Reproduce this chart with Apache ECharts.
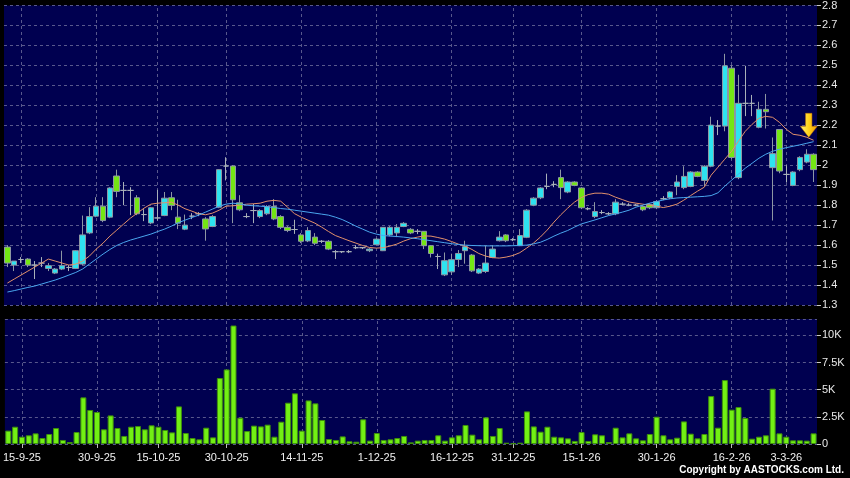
<!DOCTYPE html>
<html><head><meta charset="utf-8">
<script src="https://cdn.jsdelivr.net/npm/echarts@6/dist/echarts.min.js"></script>
<style>html,body{margin:0;padding:0;background:#000;}#c{width:850px;height:478px;}</style>
</head><body><div id="c"></div>
<script>
const dates = [
'11-9-25','12-9-25','15-9-25','16-9-25','17-9-25','18-9-25','19-9-25','22-9-25','23-9-25','24-9-25','25-9-25','26-9-25','29-9-25','30-9-25',
'2-10-25','3-10-25','6-10-25','8-10-25','9-10-25','10-10-25','13-10-25','14-10-25','15-10-25','16-10-25','17-10-25','20-10-25','21-10-25','22-10-25','23-10-25','24-10-25','27-10-25','28-10-25','30-10-25','31-10-25',
'3-11-25','4-11-25','5-11-25','6-11-25','7-11-25','10-11-25','11-11-25','12-11-25','13-11-25','14-11-25','17-11-25','18-11-25','19-11-25','20-11-25','21-11-25','24-11-25','25-11-25','26-11-25','27-11-25','28-11-25',
'1-12-25','2-12-25','3-12-25','4-12-25','5-12-25','8-12-25','9-12-25','10-12-25','11-12-25','12-12-25','15-12-25','16-12-25','17-12-25','18-12-25','19-12-25','22-12-25','23-12-25','24-12-25','29-12-25','30-12-25','31-12-25',
'2-1-26','5-1-26','6-1-26','7-1-26','8-1-26','9-1-26','12-1-26','13-1-26','14-1-26','15-1-26','16-1-26','19-1-26','20-1-26','21-1-26','22-1-26','23-1-26','26-1-26','27-1-26','28-1-26','29-1-26','30-1-26',
'2-2-26','3-2-26','4-2-26','5-2-26','6-2-26','9-2-26','10-2-26','11-2-26','12-2-26','13-2-26','16-2-26','20-2-26','23-2-26','24-2-26','25-2-26','26-2-26','27-2-26',
'2-3-26','3-3-26','4-3-26','5-3-26','6-3-26','9-3-26'];

const tickLabels = ['15-9-25','30-9-25','15-10-25','30-10-25','14-11-25','1-12-25','16-12-25','31-12-25','15-1-26','30-1-26','16-2-26','3-3-26'];

const open = [
1.59,1.50,1.528,1.53,1.50,1.51,1.483,1.46,1.48,1.488,1.483,1.505,1.661,1.745,1.795,1.74,1.946,1.874,1.874,1.837,
1.753,1.711,1.736,1.748,1.837,1.74,1.68,1.745,1.757,1.731,1.693,1.79,1.996,1.996,1.812,1.743,1.773,1.743,1.757,1.793,
1.743,1.689,1.678,1.651,1.621,1.64,1.619,1.619,1.567,1.567,1.567,1.587,1.587,1.572,1.602,1.572,1.651,1.661,1.693,1.679,
1.669,1.669,1.597,1.543,1.451,1.466,1.528,1.572,1.55,1.46,1.468,1.538,1.622,1.651,1.627,1.597,1.639,1.80,1.837,1.894,
1.904,1.938,1.866,1.916,1.886,1.782,1.743,1.763,1.757,1.757,1.805,1.80,1.80,1.793,1.804,1.787,1.832,1.837,1.894,1.888,
1.894,1.966,1.924,1.995,2.196,2.196,2.486,1.938,2.31,2.31,2.19,2.28,1.988,2.179,1.954,1.899,1.978,2.016,2.055];
const close = [
1.51,1.52,1.528,1.50,1.50,1.51,1.497,1.48,1.497,1.488,1.572,1.651,1.743,1.795,1.723,1.886,1.869,1.874,1.874,1.757,
1.753,1.787,1.736,1.835,1.799,1.71,1.70,1.745,1.757,1.681,1.743,1.978,1.996,1.827,1.777,1.743,1.773,1.773,1.793,1.731,
1.689,1.673,1.678,1.619,1.673,1.609,1.619,1.58,1.567,1.567,1.567,1.587,1.587,1.58,1.63,1.689,1.689,1.689,1.709,1.661,
1.669,1.597,1.558,1.543,1.522,1.527,1.558,1.592,1.471,1.48,1.51,1.58,1.64,1.622,1.627,1.648,1.775,1.835,1.886,1.894,
1.904,1.888,1.916,1.899,1.787,1.782,1.768,1.763,1.757,1.815,1.805,1.80,1.80,1.777,1.787,1.818,1.832,1.866,1.916,1.944,
1.966,1.944,1.995,2.201,2.196,2.498,2.039,2.31,2.31,2.31,2.28,2.268,2.058,1.971,1.954,1.966,2.039,2.055,1.978];
const low = [
1.49,1.47,1.51,1.49,1.43,1.49,1.47,1.455,1.475,1.47,1.48,1.50,1.655,1.74,1.715,1.735,1.84,1.80,1.75,1.75,
1.72,1.705,1.723,1.745,1.775,1.68,1.675,1.73,1.745,1.622,1.69,1.785,1.924,1.71,1.77,1.735,1.71,1.735,1.75,1.725,
1.68,1.665,1.656,1.61,1.615,1.60,1.61,1.575,1.53,1.56,1.56,1.58,1.58,1.565,1.60,1.57,1.645,1.64,1.69,1.655,
1.655,1.58,1.538,1.48,1.445,1.45,1.49,1.507,1.465,1.455,1.46,1.535,1.618,1.615,1.62,1.595,1.635,1.795,1.83,1.88,
1.89,1.83,1.86,1.895,1.78,1.775,1.735,1.755,1.75,1.75,1.80,1.795,1.795,1.77,1.78,1.78,1.825,1.83,1.85,1.88,
1.89,1.94,1.894,1.99,2.151,2.17,2.03,1.93,2.246,2.246,2.185,2.184,1.723,1.96,1.916,1.895,1.97,2.01,1.916];
const high = [
1.60,1.52,1.54,1.535,1.52,1.54,1.51,1.485,1.572,1.50,1.575,1.748,1.79,1.84,1.84,1.89,1.978,1.916,1.89,1.85,
1.78,1.79,1.877,1.866,1.866,1.827,1.753,1.76,1.765,1.74,1.75,1.98,2.04,2.0,1.85,1.76,1.807,1.78,1.80,1.83,
1.75,1.695,1.727,1.66,1.69,1.66,1.625,1.625,1.575,1.57,1.575,1.60,1.59,1.585,1.635,1.69,1.695,1.705,1.715,1.685,
1.68,1.67,1.60,1.557,1.563,1.557,1.575,1.622,1.555,1.485,1.597,1.60,1.67,1.655,1.635,1.68,1.78,1.84,1.89,1.958,
1.92,1.978,1.92,1.92,1.89,1.79,1.815,1.775,1.765,1.83,1.815,1.81,1.805,1.80,1.81,1.825,1.845,1.87,1.95,1.995,
1.97,1.97,2.00,2.243,2.226,2.558,2.50,2.453,2.498,2.352,2.318,2.357,2.139,2.18,2.0,1.97,2.045,2.08,2.06];

const ma10 = [
1.41,1.43,1.45,1.47,1.49,1.51,1.53,1.52,1.51,1.50,1.505,1.52,1.545,1.58,1.61,1.645,1.675,1.705,1.735,1.76,
1.785,1.805,1.81,1.812,1.815,1.80,1.782,1.77,1.757,1.752,1.76,1.775,1.795,1.797,1.80,1.805,1.807,1.81,1.82,1.824,
1.82,1.79,1.758,1.74,1.725,1.71,1.69,1.668,1.648,1.635,1.622,1.61,1.598,1.588,1.585,1.587,1.595,1.605,1.62,1.632,
1.64,1.646,1.645,1.638,1.63,1.618,1.605,1.595,1.578,1.558,1.545,1.537,1.535,1.54,1.548,1.562,1.585,1.61,1.64,1.675,
1.715,1.752,1.785,1.815,1.838,1.853,1.86,1.86,1.855,1.84,1.828,1.816,1.81,1.805,1.80,1.795,1.788,1.795,1.805,1.825,
1.848,1.87,1.89,1.95,1.99,2.03,2.07,2.12,2.17,2.205,2.235,2.245,2.24,2.215,2.18,2.155,2.15,2.14,2.125];
const ma20 = [
1.365,1.372,1.38,1.388,1.395,1.405,1.415,1.425,1.437,1.45,1.463,1.48,1.505,1.53,1.555,1.578,1.598,1.613,1.625,1.635,
1.645,1.655,1.668,1.68,1.695,1.712,1.725,1.738,1.75,1.765,1.78,1.795,1.805,1.81,1.806,1.80,1.797,1.795,1.792,1.788,
1.783,1.78,1.775,1.77,1.765,1.76,1.755,1.75,1.74,1.728,1.712,1.695,1.68,1.665,1.655,1.648,1.645,1.643,1.64,1.636,
1.632,1.627,1.622,1.617,1.612,1.607,1.603,1.60,1.598,1.597,1.596,1.596,1.596,1.596,1.597,1.598,1.60,1.606,1.614,1.628,
1.645,1.66,1.673,1.69,1.706,1.716,1.726,1.737,1.748,1.756,1.765,1.775,1.79,1.80,1.81,1.818,1.826,1.832,1.836,1.838,
1.84,1.842,1.844,1.848,1.862,1.895,1.925,1.955,1.985,2.01,2.035,2.055,2.07,2.08,2.088,2.095,2.102,2.11,2.118];

const volume = [
1230,1590,670,800,980,550,920,1470,370,180,1100,4290,3130,2940,1350,2630,1470,740,1590,1650,
1350,1720,1590,1290,1070,3460,1010,550,430,1500,610,6070,6860,10900,2420,1190,1690,1620,1780,670,
2050,3800,4660,1230,4010,3740,2210,460,370,700,250,210,2270,310,1010,370,430,550,740,150,
310,370,370,800,310,610,800,1750,860,430,2450,740,1470,120,60,120,3000,1620,1130,1590,
670,610,520,280,1100,280,890,800,180,1500,610,980,520,340,920,2510,800,430,580,2080,
950,520,920,4410,1500,5880,3160,3400,2390,490,670,800,5090,980,670,340,340,310,980];

const arrowMark = {date: '6-3-26', price: 2.20};

const gridColor = '#58588c';
const chart = echarts.init(document.getElementById('c'), null, {renderer: 'canvas'});
const isTick = (idx, val) => tickLabels.indexOf(val) >= 0;
const vLines = tickLabels.map(d => ({xAxis: d}));
const vLineStyle = {color: gridColor, type: [3, 3], width: 1};

chart.setOption({
  animation: false,
  backgroundColor: '#000',
  grid: [
    {left: 4, right: 33, top: 5, height: 300, show: true, backgroundColor: '#000050', borderWidth: 0},
    {left: 4, right: 33, top: 319, height: 125, show: true, backgroundColor: '#000050', borderWidth: 0}
  ],
  xAxis: [
    {type: 'category', gridIndex: 0, data: dates, boundaryGap: true,
     axisLine: {show: false}, axisTick: {show: false}, axisLabel: {show: false}, splitLine: {show: false}},
    {type: 'category', gridIndex: 1, data: dates, boundaryGap: true,
     axisLine: {show: false},
     axisTick: {show: true, alignWithLabel: true, interval: isTick, length: 4, lineStyle: {color: '#bbb'}},
     axisLabel: {show: true, interval: isTick, color: '#f0f0f0', fontSize: 11, fontFamily: 'Liberation Sans, Arial, sans-serif', margin: 8},
     splitLine: {show: false}}
  ],
  yAxis: [
    {type: 'value', gridIndex: 0, position: 'right', min: 1.3, max: 2.8, interval: 0.1, scale: true,
     axisLine: {show: false},
     axisTick: {show: true, length: 4, lineStyle: {color: '#ccc'}},
     axisLabel: {color: '#e8e8e8', fontSize: 11, fontFamily: 'Liberation Sans, Arial, sans-serif', margin: 5,
       formatter: v => String(Math.round(v * 10) / 10)},
     splitLine: {show: true, lineStyle: {color: gridColor, type: [3, 3], width: 1}}},
    {type: 'value', gridIndex: 1, position: 'right', min: 0, max: 11500, interval: 2500,
     axisLine: {show: false},
     axisTick: {show: true, length: 4, lineStyle: {color: '#ccc'}},
     axisLabel: {color: '#e8e8e8', fontSize: 11, fontFamily: 'Liberation Sans, Arial, sans-serif', margin: 5, showMaxLabel: false,
       formatter: v => v === 0 ? '0' : (v % 2500 === 0 ? (v / 1000) + 'K' : '')},
     splitLine: {show: true, lineStyle: {color: gridColor, type: [3, 3], width: 1}}}
  ],
  series: [
    {type: 'line', xAxisIndex: 0, yAxisIndex: 0, z: 1, data: dates.map(() => null), silent: true,
     markLine: {z: 1, silent: true, symbol: ['none', 'none'], label: {show: false}, lineStyle: vLineStyle, data: vLines, animation: false}},
    {type: 'line', xAxisIndex: 1, yAxisIndex: 1, z: 1, data: dates.map(() => null), silent: true,
     markLine: {z: 1, silent: true, symbol: ['none', 'none'], label: {show: false}, lineStyle: vLineStyle, data: vLines, animation: false}},
    {name: 'price', type: 'candlestick', xAxisIndex: 0, yAxisIndex: 0, z: 3, barWidth: 6,
     data: dates.map((d, i) => [open[i], close[i], low[i], high[i]]),
     itemStyle: {color: '#2EE3F0', color0: '#74E614', borderColor: '#8d97a3', borderColor0: '#8d97a3', borderColorDoji: '#a8b0b8', borderWidth: 1}},
    {name: 'MA10', type: 'line', xAxisIndex: 0, yAxisIndex: 0, z: 4, data: ma10, symbol: 'none',
     lineStyle: {color: '#E3916B', width: 1}},
    {name: 'MA20', type: 'line', xAxisIndex: 0, yAxisIndex: 0, z: 4, data: ma20, symbol: 'none',
     lineStyle: {color: '#4AA6EE', width: 1},
     markPoint: {silent: true, symbol: 'path://M5,0 L11,0 L11,13 L16,13 L8,24 L0,13 L5,13 Z',
       symbolSize: [17, 24], symbolOffset: [2, 0], label: {show: false},
       itemStyle: {color: {type: 'linear', x: 0, y: 0, x2: 1, y2: 0, colorStops: [{offset: 0, color: '#FFF27A'}, {offset: 0.5, color: '#FFD21A'}, {offset: 1, color: '#F29A00'}]},
         borderColor: '#C07000', borderWidth: 0.5},
       data: [{coord: [arrowMark.date, arrowMark.price]}]}},
    {name: 'volume', type: 'bar', xAxisIndex: 1, yAxisIndex: 1, z: 3, barWidth: 6, data: volume,
     itemStyle: {color: '#72F014', borderColor: '#3f8f0c', borderWidth: 1}}
  ],
  graphic: [
    {type: 'text', right: 6, top: 465, style: {text: 'Copyright by AASTOCKS.com Ltd.', fill: '#ffffff', font: 'bold 10px "Liberation Sans", Arial, sans-serif'}}
  ]
});
</script></body></html>
